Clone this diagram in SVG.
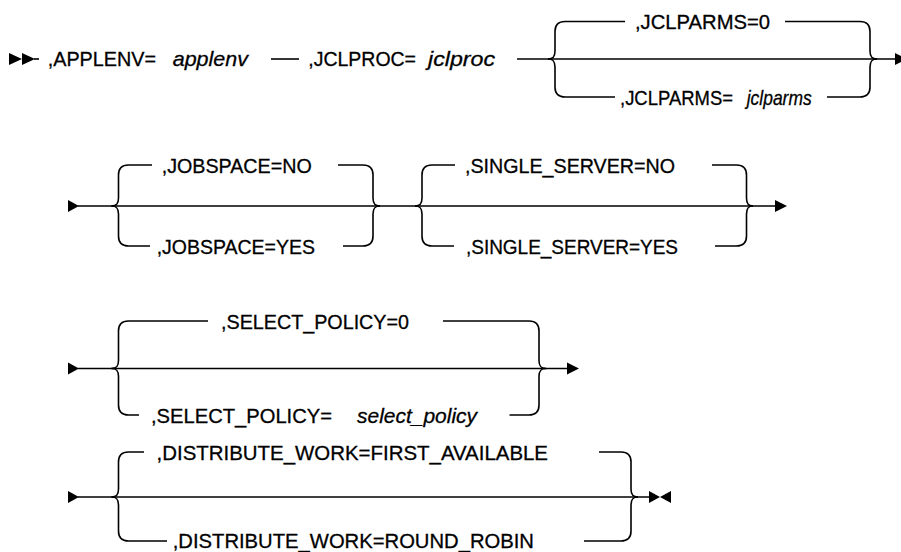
<svg xmlns="http://www.w3.org/2000/svg" width="901" height="552" viewBox="0 0 901 552">
<style>
.ln{fill:none;stroke:#000;stroke-width:1.6;stroke-linecap:butt}
.ar{fill:#000;stroke:none}
.kw{font-family:"Liberation Sans",Arial,sans-serif;font-size:21px;fill:#000;stroke:#000;stroke-width:0.3}
.var{font-style:italic}
</style>
<rect width="901" height="552" fill="#fff"/>

<g id="connectors">
  <!-- Row 1 -->
  <polygon class="ar" points="9,53 22,59 9,65"/>
  <polygon class="ar" points="22,53 35,59 22,65"/>
  <line class="ln" x1="34" y1="59" x2="39" y2="59"/>
  <line class="ln" x1="271" y1="59" x2="299" y2="59"/>
  <line class="ln" x1="517" y1="59" x2="895" y2="59"/>
  <polygon class="ar" points="895,53 907,59 895,65"/>
  <path class="ln" d="M548,59 C553,59 555,57 555,51 L555,31.5 Q555,21.5 565,21.5 L625,21.5"/>
  <path class="ln" d="M548,59 C553,59 555,61 555,67 L555,87 Q555,97 565,97 L615,97"/>
  <path class="ln" d="M785,21.5 L860,21.5 Q870,21.5 870,31.5 L870,51 C870,57 872,59 877,59"/>
  <path class="ln" d="M827,97 L860,97 Q870,97 870,87 L870,67 C870,61 872,59 877,59"/>

  <!-- Row 2 -->
  <polygon class="ar" points="68,200 79,206 68,212"/>
  <line class="ln" x1="78" y1="206" x2="775" y2="206"/>
  <polygon class="ar" points="775,200 787,206 775,212"/>
  <path class="ln" d="M111.5,206 C116.5,206 118.5,204 118.5,198 L118.5,175 Q118.5,165 128.5,165 L152,165"/>
  <path class="ln" d="M111.5,206 C116.5,206 118.5,208 118.5,214 L118.5,236 Q118.5,246 128.5,246 L150,246"/>
  <path class="ln" d="M338,165 L363,165 Q373,165 373,175 L373,198 C373,204 375,206 380,206"/>
  <path class="ln" d="M343,246 L363,246 Q373,246 373,236 L373,214 C373,208 375,206 380,206"/>
  <path class="ln" d="M415,206 C420,206 422,204 422,198 L422,175 Q422,165 432,165 L455,165"/>
  <path class="ln" d="M415,206 C420,206 422,208 422,214 L422,236 Q422,246 432,246 L454,246"/>
  <path class="ln" d="M712,165 L736.5,165 Q746.5,165 746.5,175 L746.5,198 C746.5,204 748.5,206 753,206"/>
  <path class="ln" d="M715,246 L736.5,246 Q746.5,246 746.5,236 L746.5,214 C746.5,208 748.5,206 753,206"/>

  <!-- Row 3 -->
  <polygon class="ar" points="68,362.5 79,368.5 68,374.5"/>
  <line class="ln" x1="78" y1="368.5" x2="567" y2="368.5"/>
  <polygon class="ar" points="567,362.5 579,368.5 567,374.5"/>
  <path class="ln" d="M111.5,368.5 C116.5,368.5 118.5,366.5 118.5,360.5 L118.5,331 Q118.5,321 128.5,321 L208,321"/>
  <path class="ln" d="M111.5,368.5 C116.5,368.5 118.5,370.5 118.5,376.5 L118.5,405 Q118.5,415 128.5,415 L139,415"/>
  <path class="ln" d="M443,321 L529,321 Q539,321 539,331 L539,360.5 C539,366.5 541,368.5 546,368.5"/>
  <path class="ln" d="M509.5,415 L529,415 Q539,415 539,405 L539,376.5 C539,370.5 541,368.5 546,368.5"/>

  <!-- Row 4 -->
  <polygon class="ar" points="68,491 79,497 68,503"/>
  <line class="ln" x1="78" y1="497" x2="649" y2="497"/>
  <polygon class="ar" points="649,491 660,497 649,503"/>
  <polygon class="ar" points="671,491 660,497 671,503"/>
  <path class="ln" d="M111.5,497 C116.5,497 118.5,495 118.5,489 L118.5,462 Q118.5,452 128.5,452 L144,452"/>
  <path class="ln" d="M111.5,497 C116.5,497 118.5,499 118.5,505 L118.5,531 Q118.5,541 128.5,541 L167,541"/>
  <path class="ln" d="M599,452 L621,452 Q631,452 631,462 L631,489 C631,495 633,497 638,497"/>
  <path class="ln" d="M584,541 L621,541 Q631,541 631,531 L631,505 C631,499 633,497 638,497"/>
</g>

<g id="n-applenv-kw"><text class="kw" x="47.7" y="66" textLength="108.3" lengthAdjust="spacingAndGlyphs">,APPLENV=</text></g>
<g id="n-applenv-var"><text class="kw var" x="172.7" y="66" textLength="75.3" lengthAdjust="spacingAndGlyphs">applenv</text></g>
<g id="n-jclproc-kw"><text class="kw" x="308.3" y="66" textLength="107.7" lengthAdjust="spacingAndGlyphs">,JCLPROC=</text></g>
<g id="n-jclproc-var"><text class="kw var" x="428" y="66" textLength="67" lengthAdjust="spacingAndGlyphs">jclproc</text></g>
<g id="n-jclparms0"><text class="kw" x="635" y="29" textLength="135" lengthAdjust="spacingAndGlyphs">,JCLPARMS=0</text></g>
<g id="n-jclparms"><text class="kw" x="620" y="104.5" textLength="113" lengthAdjust="spacingAndGlyphs">,JCLPARMS=</text><text class="kw var" x="746.7" y="104.5" textLength="65" lengthAdjust="spacingAndGlyphs">jclparms</text></g>

<g id="n-jobspace-no"><text class="kw" x="161.7" y="172.5" textLength="150" lengthAdjust="spacingAndGlyphs">,JOBSPACE=NO</text></g>
<g id="n-jobspace-yes"><text class="kw" x="156.7" y="253.5" textLength="158.3" lengthAdjust="spacingAndGlyphs">,JOBSPACE=YES</text></g>
<g id="n-single-no"><text class="kw" x="465" y="172.5" textLength="210" lengthAdjust="spacingAndGlyphs">,SINGLE_SERVER=NO</text></g>
<g id="n-single-yes"><text class="kw" x="466" y="253.5" textLength="212" lengthAdjust="spacingAndGlyphs">,SINGLE_SERVER=YES</text></g>

<g id="n-select-0"><text class="kw" x="221" y="328.5" textLength="188" lengthAdjust="spacingAndGlyphs">,SELECT_POLICY=0</text></g>
<g id="n-select-var"><text class="kw" x="151" y="422.5" textLength="181" lengthAdjust="spacingAndGlyphs">,SELECT_POLICY=</text><text class="kw var" x="357" y="422.5" textLength="120" lengthAdjust="spacingAndGlyphs">select_policy</text></g>

<g id="n-dist-first"><text class="kw" x="156.6" y="459.5" textLength="391.4" lengthAdjust="spacingAndGlyphs">,DISTRIBUTE_WORK=FIRST_AVAILABLE</text></g>
<g id="n-dist-round"><text class="kw" x="172.7" y="548" textLength="361.3" lengthAdjust="spacingAndGlyphs">,DISTRIBUTE_WORK=ROUND_ROBIN</text></g>
</svg>
